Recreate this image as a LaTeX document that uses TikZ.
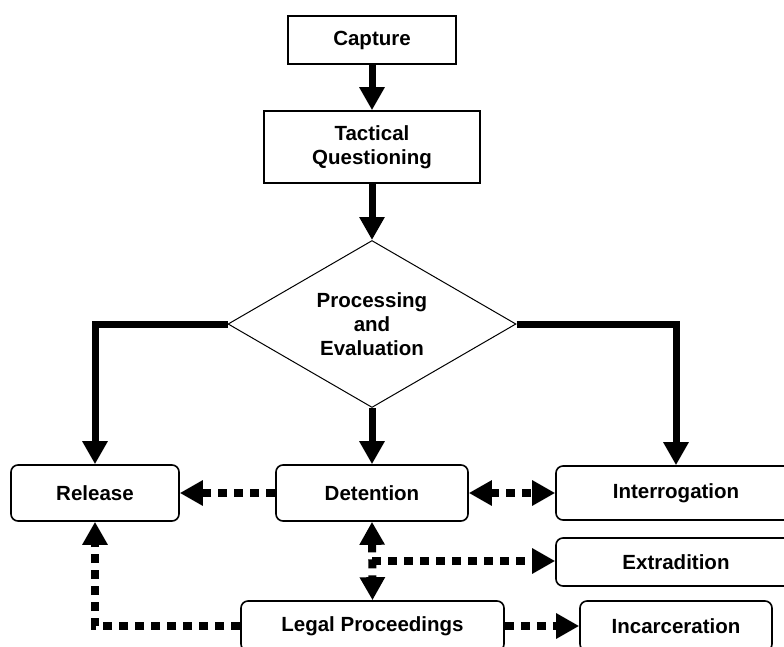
\documentclass[tikz,border=0pt]{standalone}
\usepackage{fontspec}
\setmainfont{Liberation Sans}
\usetikzlibrary{arrows.meta,shapes.geometric,calc}
\begin{document}
\begin{tikzpicture}[x=1pt,y=-1pt,
  txt/.style={font=\fontsize{20.5}{24}\selectfont\bfseries, align=center, inner sep=0pt},
  sqbox/.style={txt, draw, line width=1.6pt},
  rbox/.style={txt, draw, line width=1.6pt, rounded corners=7pt},
  decision/.style={txt, draw, line width=1pt, diamond, aspect=1.72},
  tipshape/.style={-{Triangle[width=24pt,length=23pt]}},
  flow/.style={line width=7pt, tipshape},
  link/.style={line width=8pt, dash pattern=on 9pt off 7pt, tipshape},
  link2/.style={line width=8pt, dash pattern=on 9pt off 7pt,
    {Triangle[width=24pt,length=23pt]}-{Triangle[width=24pt,length=23pt]}}
]
\useasboundingbox (0,0) rectangle (784,646);
\clip (0,0) rectangle (784,646);

% process steps
\node[sqbox, minimum width=168pt, minimum height=48pt] (cap) at (372,40) {Capture};
\node[sqbox, minimum width=216pt, minimum height=72pt] (tq) at (372,147) {Tactical\\Questioning};
\node[decision, minimum width=288pt, minimum height=167pt] (pe) at (372,324) {Processing\\and\\Evaluation};

% outcomes
\node[rbox, minimum width=168pt, minimum height=56pt] (rel) at (95,493) {Release};
\node[rbox, minimum width=192pt, minimum height=56pt] (det) at (372,493) {Detention};
\node[rbox, minimum width=240pt, minimum height=54pt] (int) at (676,493) {Interrogation};
\node[rbox, minimum width=240pt, minimum height=48pt] (ext) at (676,562) {Extradition};
\node[rbox, minimum width=263pt, minimum height=50pt] (leg) at (372.5,626) {Legal Proceedings};
\node[rbox, minimum width=192pt, minimum height=50pt] (inc) at (676,626) {Incarceration};

% main flow
\draw[flow] (cap.south) -- (tq.north);
\draw[flow] (tq.south) -- (pe.north);
\draw[flow] (pe.west) -| (rel.north);
\draw[flow] (pe.east) -| (int.north);
\draw[flow] (pe.south) -- (det.north);

% transfers between outcomes
\draw[link] (det.west) -- (rel.east);
\draw[link2] (det.east) -- (int.west);
\draw[link2] (det.south) -- (leg.north);
\coordinate (br) at ($(det.south)!0.5!(leg.north)$);
\draw[link] (br) -- (br -| ext.west);
\draw[link] (leg.west) -| (rel.south);
\draw[link] (leg.east) -- (inc.west);
\end{tikzpicture}
\end{document}
